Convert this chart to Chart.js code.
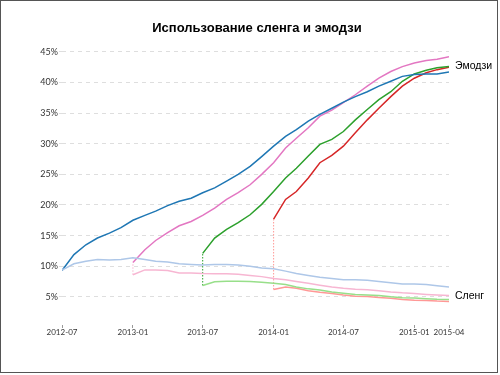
<!DOCTYPE html>
<html>
<head>
<meta charset="utf-8">
<script src="https://cdn.jsdelivr.net/npm/chart.js@4/dist/chart.umd.min.js"></script>
<style>
  html, body { margin: 0; padding: 0; background: #fff; }
  #frame { position: absolute; left: 0; top: 0; width: 498px; height: 373px; box-sizing: border-box; border: 1px solid #555; }
  #wrap { position: absolute; left: 0; top: 0; width: 500px; height: 375px; }
</style>
</head>
<body>
<div id="frame"></div>
<div id="wrap"><canvas id="c" width="500" height="375"></canvas></div>
<script>
const titleText = 'Использование сленга и эмодзи';
const groupLabels = ['Эмодзи', 'Сленг'];
const months = ['2012-07','2012-08','2012-09','2012-10','2012-11','2012-12',
  '2013-01','2013-02','2013-03','2013-04','2013-05','2013-06','2013-07','2013-08','2013-09','2013-10','2013-11','2013-12',
  '2014-01','2014-02','2014-03','2014-04','2014-05','2014-06','2014-07','2014-08','2014-09','2014-10','2014-11','2014-12',
  '2015-01','2015-02','2015-03','2015-04'];
const xTickLabels = ['2012-07','2013-01','2013-07','2014-01','2014-07','2015-01','2015-04'];
const yTicks = [5, 10, 15, 20, 25, 30, 35, 40, 45];
const startMonths = ['2012-07', '2013-01', '2013-07', '2014-01'];

const emojiBlue = [9.3, 11.9, 13.5, 14.6, 15.4, 16.3, 17.5, 18.3, 19.0, 19.9, 20.6, 21.1, 22.0, 22.8, 23.9, 25.0, 26.3, 27.9, 29.6, 31.2, 32.3, 33.7, 34.8, 35.8, 36.8, 37.7, 38.5, 39.4, 40.2, 41.0, 41.3, 41.4, 41.4, 41.7];
const emojiPink = [10.6, 12.7, 14.2, 15.5, 16.6, 17.3, 18.3, 19.5, 20.9, 22.0, 23.3, 25.0, 26.9, 29.3, 30.9, 32.6, 34.5, 35.5, 36.7, 38.0, 39.4, 40.7, 41.8, 42.6, 43.2, 43.6, 43.8, 44.2];
const emojiGreen = [12.1, 14.6, 16.0, 17.1, 18.4, 20.1, 22.2, 24.4, 26.0, 28.0, 29.9, 30.7, 32.0, 33.9, 35.6, 37.2, 38.5, 40.2, 41.4, 42.0, 42.4, 42.6];
const emojiRed = [17.7, 20.9, 22.2, 24.4, 26.9, 28.1, 29.6, 31.8, 33.9, 35.8, 37.7, 39.4, 40.7, 41.6, 42.1, 42.5];

const slangBlue = [9.35, 10.4, 10.8, 11.1, 11.0, 11.1, 11.4, 11.1, 10.8, 10.7, 10.4, 10.3, 10.2, 10.3, 10.3, 10.2, 10.0, 9.7, 9.6, 9.2, 8.8, 8.5, 8.2, 8.0, 7.8, 7.8, 7.7, 7.5, 7.3, 7.1, 7.1, 7.0, 6.8, 6.6];
const slangPink = [8.6, 9.4, 9.4, 9.3, 8.9, 8.9, 8.8, 8.75, 8.75, 8.7, 8.5, 8.3, 8.0, 7.8, 7.5, 7.2, 6.9, 6.6, 6.4, 6.25, 6.15, 6.0, 5.8, 5.65, 5.55, 5.4, 5.3, 5.2];
const slangGreen = [6.85, 7.45, 7.55, 7.55, 7.5, 7.4, 7.2, 7.0, 6.6, 6.3, 6.1, 5.8, 5.6, 5.4, 5.3, 5.2, 5.0, 4.85, 4.8, 4.7, 4.6, 4.55];
const slangRed = [6.2, 6.6, 6.4, 6.0, 5.75, 5.55, 5.3, 5.1, 5.05, 4.9, 4.75, 4.55, 4.45, 4.4, 4.3, 4.25];

const emojiSeries = [emojiBlue, emojiPink, emojiGreen, emojiRed];
const slangSeries = [slangBlue, slangPink, slangGreen, slangRed];
const emojiColors = ['#1f77b4', '#e377c2', '#2ca02c', '#d62728'];
const slangColors = ['#aec7e8', '#f7b6d2', '#98df8a', '#ff9896'];
const linkColors = ['#aec7e8', '#f7b6d2', '#2ca02c', '#ff9896'];

function monthToDay(s) { const p = s.split('-').map(Number); return Date.UTC(p[0], p[1] - 1, 1) / 864e5; }
function toPoints(arr, start) {
  const i0 = months.indexOf(start);
  return arr.map((v, i) => ({ x: monthToDay(months[i0 + i]), y: v }));
}

const datasets = [];
slangSeries.forEach((s, k) => datasets.push({ data: toPoints(s, startMonths[k]), borderColor: slangColors[k], borderWidth: 1.5, pointRadius: 0, tension: 0 }));
emojiSeries.forEach((s, k) => {
  if (k === 0) return;
  const x = monthToDay(startMonths[k]);
  datasets.push({ data: [{ x: x, y: slangSeries[k][0] }, { x: x, y: s[0] }], borderColor: linkColors[k], borderWidth: 1, borderDash: [1.5, 1.5], pointRadius: 0 });
});
emojiSeries.forEach((s, k) => datasets.push({ data: toPoints(s, startMonths[k]), borderColor: emojiColors[k], borderWidth: 1.5, pointRadius: 0, tension: 0 }));

const endLabels = {
  id: 'endLabels',
  afterDatasetsDraw(chart) {
    const ctx = chart.ctx, y = chart.scales.y, area = chart.chartArea;
    const mean = a => a.reduce((t, v) => t + v, 0) / a.length;
    const groups = [emojiSeries, slangSeries];
    ctx.save();
    ctx.font = '10.5px "Liberation Sans", Arial, sans-serif';
    ctx.fillStyle = '#000';
    ctx.textBaseline = 'middle';
    ctx.textAlign = 'left';
    groups.forEach((g, i) => {
      const v = mean(g.map(s => s[s.length - 1]));
      ctx.fillText(groupLabels[i], area.right + 6, y.getPixelForValue(v));
    });
    ctx.restore();
  }
};

new Chart(document.getElementById('c'), {
  type: 'line',
  data: { datasets: datasets },
  plugins: [endLabels],
  options: {
    responsive: false,
    animation: false,
    events: [],
    layout: { padding: { left: 14, right: 0, top: 0, bottom: 0 } },
    plugins: {
      legend: { display: false },
      tooltip: { enabled: false },
      title: {
        display: true, text: titleText, color: '#000',
        font: { family: '"Liberation Sans", Arial, sans-serif', size: 13, weight: 'bold' },
        padding: { top: 21, bottom: 11 }
      }
    },
    scales: {
      x: {
        type: 'linear',
        min: monthToDay('2012-07'), max: monthToDay('2015-04'),
        afterBuildTicks: s => { s.ticks = xTickLabels.map(l => ({ value: monthToDay(l) })); },
        afterFit: s => { s.height = 50; },
        grid: { drawOnChartArea: false, drawTicks: true, tickLength: 3, color: '#999' },
        border: { display: false },
        ticks: {
          padding: 0, color: '#333', maxRotation: 0, autoSkip: false,
          font: { family: 'Lato, sans-serif', size: 8 },
          callback: v => { const l = xTickLabels.find(t => monthToDay(t) === v); return l || ''; }
        }
      },
      y: {
        min: 0.4, max: 45.7,
        afterBuildTicks: s => { s.ticks = yTicks.map(v => ({ value: v })); },
        afterFit: s => { s.width = 48; },
        grid: { color: '#dedede', lineWidth: 1, tickLength: 3 },
        border: { display: false, dash: [4, 4] },
        ticks: {
          padding: 1, color: '#333',
          font: { family: 'Lato, sans-serif', size: 9 },
          callback: v => v + '%'
        }
      },
      yR: {
        position: 'right', min: 0, max: 1,
        afterFit: s => { s.width = 51; },
        grid: { display: false }, border: { display: false },
        ticks: { display: false }
      }
    }
  }
});
</script>
</body>
</html>
